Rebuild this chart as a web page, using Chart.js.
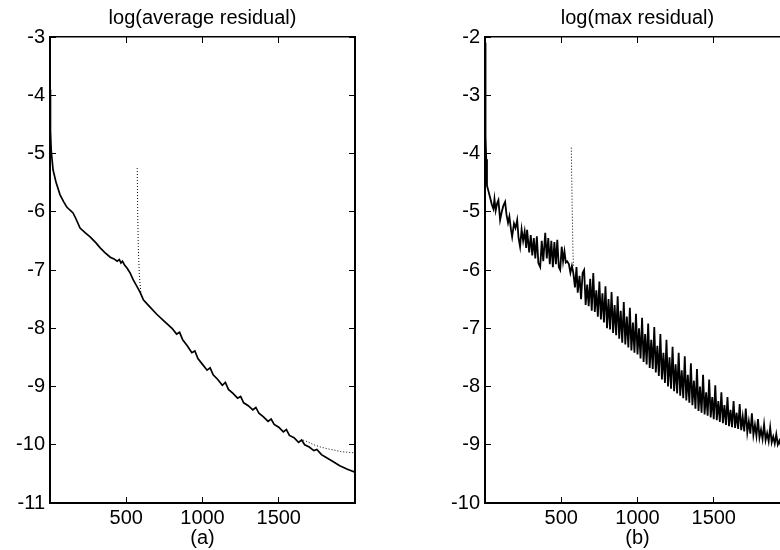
<!DOCTYPE html>
<html>
<head>
<meta charset="utf-8">
<script src="https://cdn.jsdelivr.net/npm/chart.js@4.4.0/dist/chart.umd.min.js"></script>
<style>
html, body { margin: 0; padding: 0; width: 780px; height: 550px; overflow: hidden; background: #fff; }
canvas { position: absolute; top: 0; }
#panelA { left: 0; }
#panelB { left: 420px; }
</style>
</head>
<body>
<canvas id="panelA" width="390" height="550"></canvas>
<canvas id="panelB" width="400" height="550"></canvas>
<script>
// tick values shared by both panels
const xTickValues = [500, 1000, 1500];
const yTicksA = [-11, -10, -9, -8, -7, -6, -5, -4, -3];
const yTicksB = [-10, -9, -8, -7, -6, -5, -4, -3, -2];

// (a) log(average residual), [iteration, value]
const avgResidual = [
    [0, -3.9], [3, -4.6], [8, -4.95], [20, -5.28], [40, -5.5], [66, -5.71], [90, -5.83], [110, -5.92],
    [130, -5.97], [151, -6.02], [170, -6.12], [197, -6.28], [230, -6.36], [263, -6.43], [300, -6.53],
    [329, -6.62], [360, -6.7], [395, -6.78], [420, -6.81], [440, -6.85], [455, -6.82], [465, -6.88],
    [475, -6.85], [490, -6.92], [506, -6.97], [525, -7.05], [546, -7.17], [570, -7.28], [592, -7.39],
    [612, -7.51], [650, -7.62], [700, -7.76], [750, -7.88], [800, -8.0], [830, -8.1], [850, -8.07],
    [870, -8.2], [900, -8.3], [930, -8.42], [950, -8.39], [970, -8.52], [1000, -8.62], [1030, -8.72],
    [1050, -8.68], [1070, -8.8], [1100, -8.88], [1130, -8.98], [1150, -8.93], [1170, -9.05], [1200, -9.12],
    [1230, -9.2], [1250, -9.17], [1270, -9.28], [1300, -9.33], [1330, -9.4], [1350, -9.36], [1370, -9.46],
    [1400, -9.52], [1430, -9.6], [1450, -9.56], [1470, -9.65], [1500, -9.7], [1530, -9.78], [1550, -9.74],
    [1570, -9.84], [1600, -9.88], [1630, -9.96], [1650, -9.92], [1670, -10.0], [1700, -10.04], [1730, -10.1],
    [1750, -10.08], [1780, -10.17], [1800, -10.2], [1850, -10.28], [1900, -10.36], [1950, -10.42], [2000, -10.47]
];
// dotted run (restart) – only the parts that leave the solid curve
const avgRestartSpike = [[572, -5.25], [575, -6.0], [579, -6.6], [586, -7.1], [596, -7.4], [612, -7.51]];
const avgRestartTail = [
    [1660, -9.92], [1690, -9.95], [1730, -10.0], [1776, -10.04], [1820, -10.07],
    [1862, -10.09], [1910, -10.12], [1960, -10.13], [2000, -10.14]
];

// (b) log(max residual)
const maxResidual = [
    [0, -2.1], [2, -3.0], [5, -3.7], [8, -4.1], [13, -4.55], [20, -4.62], [33, -4.75], [45, -4.88],
    [55, -4.95], [62, -4.78], [70, -4.98], [80, -4.85], [88, -4.8], [99, -5.14], [110, -5.0], [120, -4.9],
    [132, -4.83], [141, -5.05], [151, -5.19], [160, -5.08], [170, -5.3], [178, -5.43], [190, -5.2],
    [200, -5.28], [211, -5.14], [220, -5.45], [230, -5.6], [240, -5.3], [250, -5.5], [260, -5.34],
    [270, -5.62], [276, -5.31], [290, -5.7], [300, -5.4], [310, -5.75], [320, -5.45], [330, -5.8],
    [340, -5.42], [350, -5.88], [362, -5.95], [372, -5.5], [382, -5.85], [395, -5.36], [405, -5.8],
    [415, -5.45], [425, -5.9], [435, -5.5], [445, -5.95], [455, -5.52], [465, -5.9], [474, -5.48],
    [484, -5.95], [493, -6.0], [503, -5.6], [512, -5.85], [521, -5.68], [530, -5.87], [539, -5.85],
    [550, -5.9], [560, -6.05], [570, -5.93], [579, -6.05], [590, -6.3], [600, -5.95], [608, -6.39],
    [620, -6.1], [630, -6.5], [640, -6.05],
    [650, -6.0], [660, -6.6], [670, -6.25], [680, -6.62], [690, -6.15], [700, -6.7], [710, -6.05],
    [720, -6.72], [730, -6.35], [740, -6.8], [750, -6.2], [760, -6.85], [770, -6.4], [780, -6.9],
    [790, -6.28], [800, -7.0], [810, -6.5], [820, -7.02], [830, -6.38], [840, -7.08], [850, -6.6],
    [860, -7.12], [870, -6.45], [880, -7.18], [890, -6.7], [900, -7.25], [910, -6.55], [920, -7.28],
    [930, -6.8], [940, -7.33], [950, -6.65], [960, -7.38], [970, -6.9], [980, -7.42], [990, -6.75],
    [1000, -7.45], [1010, -7.0], [1020, -7.52], [1030, -6.82], [1040, -7.58], [1050, -7.1], [1060, -7.62],
    [1070, -6.92], [1080, -7.68], [1090, -7.2], [1100, -7.7], [1110, -6.98], [1120, -7.76], [1130, -7.3],
    [1140, -7.82], [1150, -7.1], [1160, -7.88], [1170, -7.42], [1180, -7.94], [1190, -7.2], [1200, -8.0],
    [1210, -7.5], [1220, -8.04], [1230, -7.32], [1240, -8.08], [1250, -7.62], [1260, -8.12], [1270, -7.42],
    [1280, -8.16], [1290, -7.72], [1300, -8.2], [1310, -7.48], [1320, -8.24], [1330, -7.8], [1340, -8.28],
    [1350, -7.6], [1360, -8.32], [1370, -7.9], [1380, -8.38], [1390, -7.7], [1400, -8.42], [1410, -8.0],
    [1420, -8.45], [1430, -7.8], [1440, -8.48], [1450, -8.1], [1460, -8.5], [1470, -7.88], [1480, -8.53],
    [1490, -8.18], [1500, -8.56], [1510, -7.98], [1520, -8.58], [1530, -8.25], [1540, -8.61], [1550, -8.1],
    [1560, -8.63], [1570, -8.32], [1580, -8.66], [1590, -8.18], [1600, -8.68], [1610, -8.4], [1620, -8.7],
    [1630, -8.25], [1640, -8.71], [1650, -8.45], [1660, -8.73], [1670, -8.3], [1680, -8.75], [1690, -8.52],
    [1700, -8.77], [1710, -8.38], [1720, -8.79], [1730, -8.6], [1740, -8.81], [1750, -8.46], [1760, -8.83],
    [1770, -8.66], [1780, -8.85], [1790, -8.56], [1800, -8.88], [1810, -8.74], [1820, -8.9], [1830, -8.65],
    [1840, -8.92], [1850, -8.8], [1860, -8.94], [1870, -8.7], [1880, -8.96], [1890, -8.86], [1900, -8.98],
    [1910, -8.82], [1920, -9.0], [1930, -8.93], [1940, -9.02], [1950, -8.92], [1960, -9.04], [1970, -9.0],
    [1980, -9.06], [1990, -9.02], [2000, -9.08]
];
const maxRestartSpike = [[566, -3.9], [568, -4.3], [571, -4.8], [574, -5.3], [577, -5.7], [580, -5.95]];

const font = { family: '"Liberation Sans", Arial, Helvetica, sans-serif', size: 20, weight: 'normal' };

function insideGrid() {
    return { drawOnChartArea: false, drawTicks: true, tickLength: -6, color: '#000', lineWidth: 1 };
}

function makePanel(canvasId, p) {
    const ctx = document.getElementById(canvasId).getContext('2d');
    const setTicks = vals => scale => { scale.ticks = vals.map(v => ({ value: v })); };
    const datasets = [{
        data: p.solid,
        borderColor: '#000',
        borderWidth: p.solidWidth,
        pointRadius: 0,
        tension: 0
    }];
    p.dotted.forEach(d => datasets.push({
        data: d,
        borderColor: '#000',
        borderWidth: 1,
        borderDash: [1, 2],
        pointRadius: 0,
        tension: 0
    }));

    return new Chart(ctx, {
        type: 'line',
        data: { datasets: datasets },
        options: {
            responsive: false,
            animation: false,
            devicePixelRatio: 1,
            layout: { padding: { left: 0, right: p.padRight, top: 0, bottom: 0 } },
            plugins: {
                legend: { display: false },
                tooltip: { enabled: false },
                title: {
                    display: true,
                    text: p.title,
                    fullSize: false,
                    color: '#000',
                    font: font,
                    padding: { top: 6, bottom: 7 }
                }
            },
            scales: {
                x: {
                    type: 'linear', position: 'bottom', min: 0, max: 2000,
                    afterBuildTicks: setTicks(xTickValues),
                    afterFit: s => { s.height = 47; },
                    ticks: { color: '#000', font: font, padding: 9, maxRotation: 0, autoSkip: false, callback: v => String(v) },
                    grid: insideGrid(),
                    border: { color: '#000', width: 2 },
                    title: { display: true, text: p.label, color: '#000', font: font, padding: 0 }
                },
                xTop: {
                    type: 'linear', position: 'top', min: 0, max: 2000,
                    afterBuildTicks: setTicks(xTickValues),
                    afterFit: s => { s.height = 0; },
                    ticks: { display: false },
                    grid: insideGrid(),
                    border: { color: '#000', width: 1.5 }
                },
                y: {
                    type: 'linear', position: 'left', min: p.yTicks[0], max: p.yTicks[p.yTicks.length - 1],
                    afterBuildTicks: setTicks(p.yTicks),
                    afterFit: s => { s.width = p.yWidth; },
                    ticks: { color: '#000', font: font, padding: 11, autoSkip: false, callback: v => String(v) },
                    grid: insideGrid(),
                    border: { color: '#000', width: 2 }
                },
                yRight: {
                    type: 'linear', position: 'right', min: p.yTicks[0], max: p.yTicks[p.yTicks.length - 1],
                    afterBuildTicks: setTicks(p.yTicks),
                    afterFit: s => { s.width = 0; },
                    ticks: { display: false },
                    grid: insideGrid(),
                    border: { color: '#000', width: 2 }
                }
            }
        }
    });
}

makePanel('panelA', {
    title: 'log(average residual)', label: '(a)',
    solid: avgResidual, solidWidth: 1.7, dotted: [avgRestartSpike, avgRestartTail],
    yTicks: yTicksA, yWidth: 50, padRight: 35
});

makePanel('panelB', {
    title: 'log(max residual)', label: '(b)',
    solid: maxResidual, solidWidth: 1.8, dotted: [maxRestartSpike],
    yTicks: yTicksB, yWidth: 65, padRight: 30
});
</script>
</body>
</html>
